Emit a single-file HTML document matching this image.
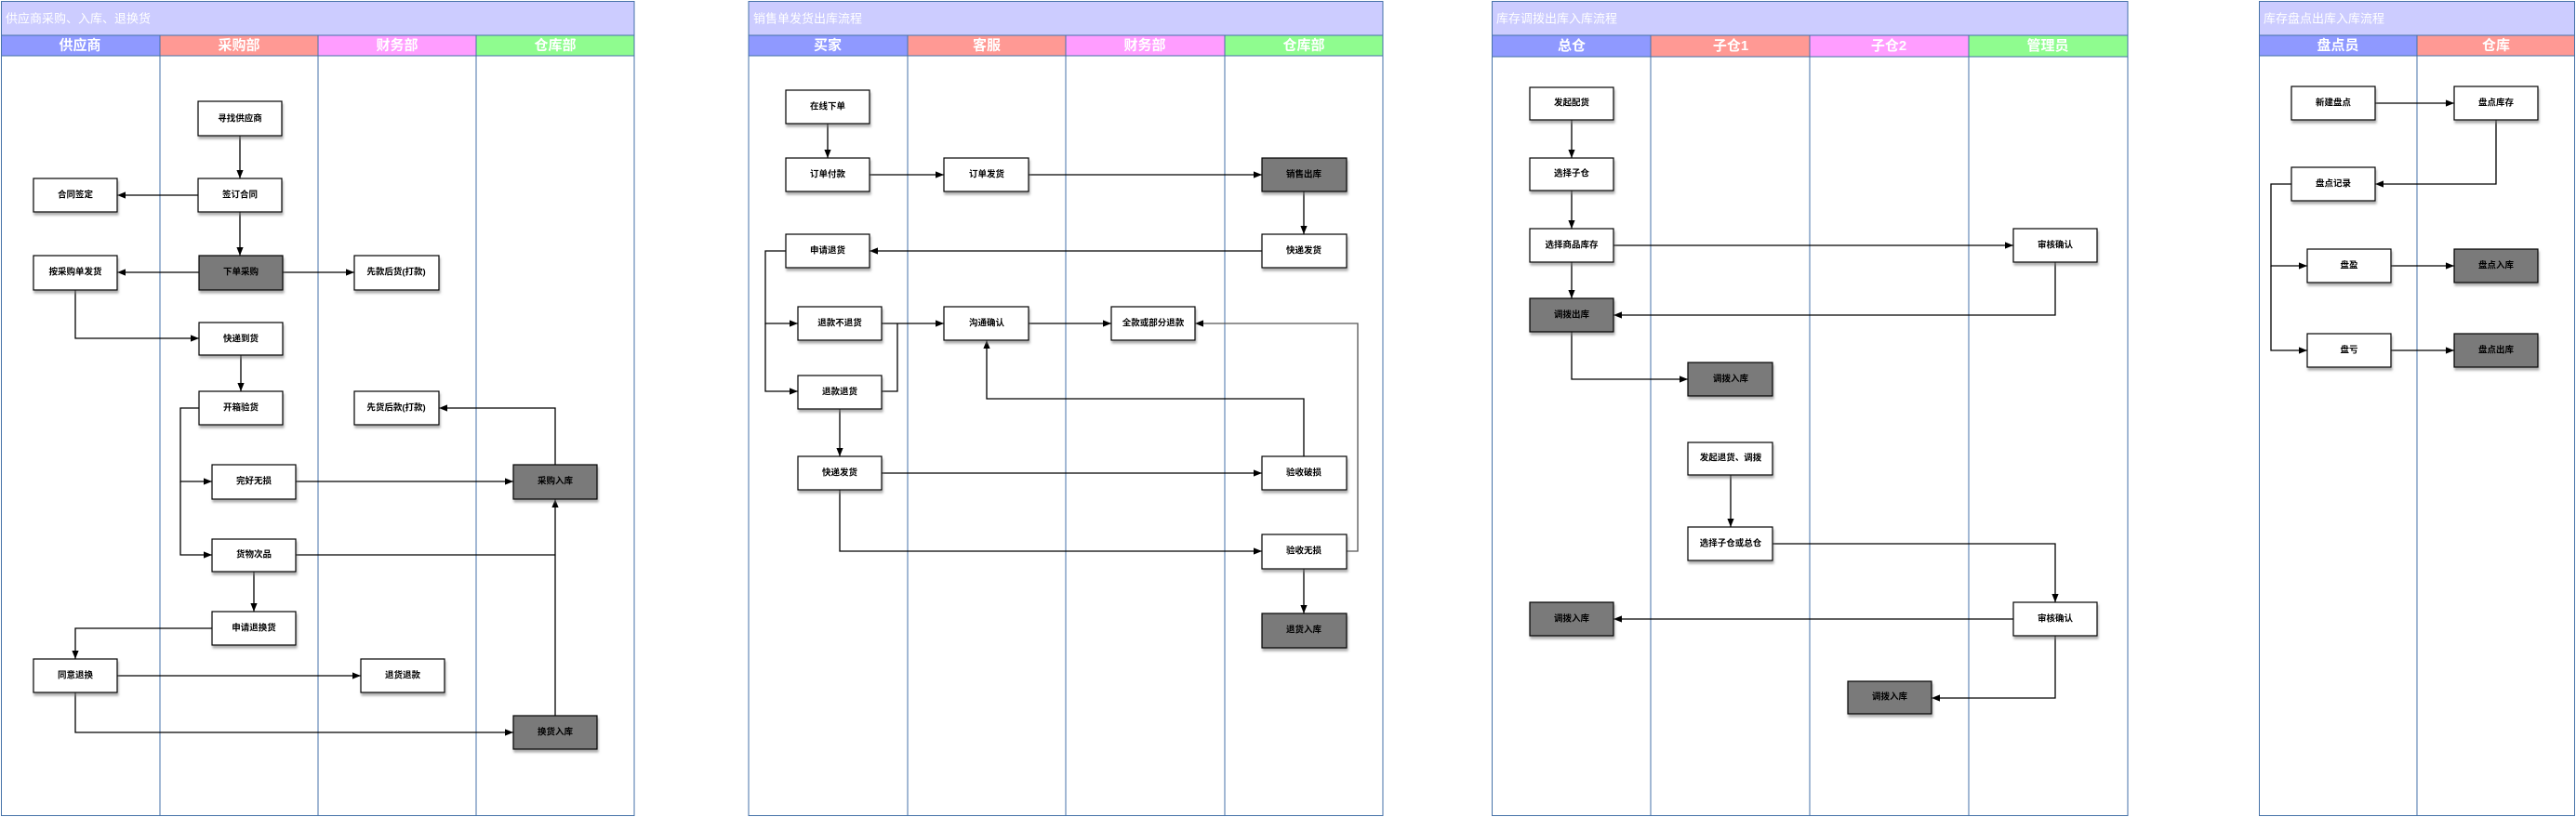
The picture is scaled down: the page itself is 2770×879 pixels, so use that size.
<!DOCTYPE html>
<html><head><meta charset="utf-8"><style>
html,body{margin:0;padding:0;background:#fff;}
svg{display:block;}
.t{font-family:"Liberation Sans","Noto Sans CJK SC",sans-serif;}
.bt{font-size:9.5px;font-weight:bold;fill:#000;text-anchor:middle;dominant-baseline:central;}
.ht{font-size:15px;font-weight:bold;fill:#fff;text-anchor:middle;dominant-baseline:central;}
.tt{font-size:13px;fill:#fff;dominant-baseline:central;}
.ln{stroke:#000;stroke-width:1.3;fill:none;}
.lane{stroke:#4672a8;stroke-width:1;fill:none;}
.bx{filter:url(#ds);}
</style></head><body>
<svg width="2770" height="879" viewBox="0 0 2770 879" xmlns="http://www.w3.org/2000/svg" class="t">
<defs>
<marker id="a" viewBox="0 0 10 10" refX="10" refY="5" markerWidth="9" markerHeight="9" markerUnits="userSpaceOnUse" orient="auto"><path d="M0,1 L10,5 L0,9 z" fill="#000"/></marker>
<filter id="ds" x="-10%" y="-20%" width="130%" height="160%"><feDropShadow dx="1" dy="3" stdDeviation="1.2" flood-color="#777" flood-opacity="0.6"/></filter>
</defs>

<!-- ============ Diagram 1 ============ -->
<rect x="1" y="1" width="681" height="37" fill="#ccccff"/>
<text class="tt" x="6" y="20">供应商采购、入库、退换货</text>
<rect x="1" y="38" width="171" height="22" fill="#8f99ff"/>
<rect x="172" y="38" width="170" height="22" fill="#ff9994"/>
<rect x="342" y="38" width="170" height="22" fill="#ff9dff"/>
<rect x="512" y="38" width="170" height="22" fill="#8ffc8f"/>
<text class="ht" x="86" y="49">供应商</text>
<text class="ht" x="257" y="49">采购部</text>
<text class="ht" x="427" y="49">财务部</text>
<text class="ht" x="597" y="49">仓库部</text>
<rect class="lane" x="1.5" y="1.5" width="680.5" height="876"/>
<line class="lane" x1="1" y1="38" x2="682" y2="38"/>
<line class="lane" x1="1" y1="60" x2="682" y2="60"/>
<line class="lane" x1="172" y1="38" x2="172" y2="878"/>
<line class="lane" x1="342" y1="38" x2="342" y2="878"/>
<line class="lane" x1="512" y1="38" x2="512" y2="878"/>

<path class="ln" d="M258,146 V192" marker-end="url(#a)"/>
<path class="ln" d="M213,210 H126" marker-end="url(#a)"/>
<path class="ln" d="M258,228 V275" marker-end="url(#a)"/>
<path class="ln" d="M214,293 H126" marker-end="url(#a)"/>
<path class="ln" d="M304,293 H381" marker-end="url(#a)"/>
<path class="ln" d="M81,312 V364 H214" marker-end="url(#a)"/>
<path class="ln" d="M259,382 V421" marker-end="url(#a)"/>
<path class="ln" d="M214,439 H194 V518 H228" marker-end="url(#a)"/>
<path class="ln" d="M194,518 V597 H228" marker-end="url(#a)"/>
<path class="ln" d="M318,518 H552" marker-end="url(#a)"/>
<path class="ln" d="M597,500 V439 H472" marker-end="url(#a)"/>
<path class="ln" d="M318,597 H597"/>
<path class="ln" d="M597,770 V537" marker-end="url(#a)"/>
<path class="ln" d="M273,615 V658" marker-end="url(#a)"/>
<path class="ln" d="M228,676 H81 V709" marker-end="url(#a)"/>
<path class="ln" d="M126,727 H388" marker-end="url(#a)"/>
<path class="ln" d="M81,745 V788 H552" marker-end="url(#a)"/>

<g stroke="#000" stroke-width="1.2" class="bx">
<g fill="#fff">
<rect x="213" y="109" width="90" height="37"/>
<rect x="213" y="192" width="90" height="36"/>
<rect x="36" y="192" width="90" height="36"/>
<rect x="36" y="275" width="90" height="37"/>
<rect x="381" y="275" width="91" height="37"/>
<rect x="214" y="347" width="90" height="35"/>
<rect x="214" y="421" width="90" height="36"/>
<rect x="381" y="421" width="91" height="36"/>
<rect x="228" y="500" width="90" height="37"/>
<rect x="228" y="580" width="90" height="35"/>
<rect x="228" y="658" width="90" height="36"/>
<rect x="36" y="709" width="90" height="36"/>
<rect x="388" y="709" width="90" height="36"/>
</g>
<g fill="#7a7a7a">
<rect x="214" y="275" width="90" height="37"/>
<rect x="552" y="500" width="90" height="37"/>
<rect x="552" y="770" width="90" height="36"/>
</g>
</g>
<text class="bt" x="258" y="128">寻找供应商</text>
<text class="bt" x="258" y="210">签订合同</text>
<text class="bt" x="81" y="210">合同签定</text>
<text class="bt" x="81" y="293">按采购单发货</text>
<text class="bt" x="426" y="293">先款后货(打款)</text>
<text class="bt" x="259" y="293">下单采购</text>
<text class="bt" x="259" y="365">快递到货</text>
<text class="bt" x="259" y="439">开箱验货</text>
<text class="bt" x="426" y="439">先货后款(打款)</text>
<text class="bt" x="273" y="518">完好无损</text>
<text class="bt" x="597" y="518">采购入库</text>
<text class="bt" x="273" y="597">货物次品</text>
<text class="bt" x="273" y="676">申请退换货</text>
<text class="bt" x="81" y="727">同意退换</text>
<text class="bt" x="433" y="727">退货退款</text>
<text class="bt" x="597" y="788">换货入库</text>

<!-- ============ Diagram 2 ============ -->
<rect x="805" y="1" width="682" height="37" fill="#ccccff"/>
<text class="tt" x="810" y="20">销售单发货出库流程</text>
<rect x="805" y="38" width="171" height="22" fill="#8f99ff"/>
<rect x="976" y="38" width="170" height="22" fill="#ff9994"/>
<rect x="1146" y="38" width="171" height="22" fill="#ff9dff"/>
<rect x="1317" y="38" width="170" height="22" fill="#8ffc8f"/>
<text class="ht" x="890" y="49">买家</text>
<text class="ht" x="1061" y="49">客服</text>
<text class="ht" x="1231" y="49">财务部</text>
<text class="ht" x="1402" y="49">仓库部</text>
<rect class="lane" x="805" y="1.5" width="682" height="876"/>
<line class="lane" x1="805" y1="38" x2="1487" y2="38"/>
<line class="lane" x1="805" y1="60" x2="1487" y2="60"/>
<line class="lane" x1="976" y1="38" x2="976" y2="878"/>
<line class="lane" x1="1146" y1="38" x2="1146" y2="878"/>
<line class="lane" x1="1317" y1="38" x2="1317" y2="878"/>

<path class="ln" d="M890,133 V170" marker-end="url(#a)"/>
<path class="ln" d="M935,188 H1015" marker-end="url(#a)"/>
<path class="ln" d="M1106,188 H1357" marker-end="url(#a)"/>
<path class="ln" d="M1402,206 V252" marker-end="url(#a)"/>
<path class="ln" d="M1357,270 H935" marker-end="url(#a)"/>
<path class="ln" d="M845,270 H823 V348 H858" marker-end="url(#a)"/>
<path class="ln" d="M823,348 V421 H858" marker-end="url(#a)"/>
<path class="ln" d="M948,348 H1015" marker-end="url(#a)"/>
<path class="ln" d="M948,421 H965 V348"/>
<path class="ln" d="M1106,348 H1195" marker-end="url(#a)"/>
<path d="M1448,593 H1460 V348 H1285" stroke="#555" stroke-width="1.3" fill="none" marker-end="url(#a)"/>
<path class="ln" d="M1402,491 V429 H1061 V366" marker-end="url(#a)"/>
<path class="ln" d="M903,440 V491" marker-end="url(#a)"/>
<path class="ln" d="M948,509 H1357" marker-end="url(#a)"/>
<path class="ln" d="M903,527 V593 H1357" marker-end="url(#a)"/>
<path class="ln" d="M1402,612 V660" marker-end="url(#a)"/>

<g stroke="#000" stroke-width="1.2" class="bx">
<g fill="#fff">
<rect x="845" y="97" width="90" height="36"/>
<rect x="845" y="170" width="90" height="36"/>
<rect x="1015" y="170" width="91" height="36"/>
<rect x="845" y="252" width="90" height="36"/>
<rect x="1357" y="252" width="91" height="36"/>
<rect x="858" y="330" width="90" height="36"/>
<rect x="1015" y="330" width="91" height="36"/>
<rect x="1195" y="330" width="90" height="36"/>
<rect x="858" y="404" width="90" height="36"/>
<rect x="858" y="491" width="90" height="36"/>
<rect x="1357" y="491" width="91" height="36"/>
<rect x="1357" y="575" width="91" height="37"/>
</g>
<g fill="#7a7a7a">
<rect x="1357" y="170" width="91" height="36"/>
<rect x="1357" y="660" width="91" height="37"/>
</g>
</g>
<text class="bt" x="890" y="115">在线下单</text>
<text class="bt" x="890" y="188">订单付款</text>
<text class="bt" x="1061" y="188">订单发货</text>
<text class="bt" x="1402" y="188">销售出库</text>
<text class="bt" x="890" y="270">申请退货</text>
<text class="bt" x="1402" y="270">快递发货</text>
<text class="bt" x="903" y="348">退款不退货</text>
<text class="bt" x="1061" y="348">沟通确认</text>
<text class="bt" x="1240" y="348">全款或部分退款</text>
<text class="bt" x="903" y="422">退款退货</text>
<text class="bt" x="903" y="509">快递发货</text>
<text class="bt" x="1402" y="509">验收破损</text>
<text class="bt" x="1402" y="593">验收无损</text>
<text class="bt" x="1402" y="678">退货入库</text>

<!-- ============ Diagram 3 ============ -->
<rect x="1604" y="1" width="684" height="37" fill="#ccccff"/>
<text class="tt" x="1609" y="20">库存调拨出库入库流程</text>
<rect x="1604" y="38" width="171" height="23" fill="#8f99ff"/>
<rect x="1775" y="38" width="171" height="23" fill="#ff9994"/>
<rect x="1946" y="38" width="171" height="23" fill="#ff9dff"/>
<rect x="2117" y="38" width="171" height="23" fill="#8ffc8f"/>
<text class="ht" x="1690" y="49.5">总仓</text>
<text class="ht" x="1861" y="49.5">子仓1</text>
<text class="ht" x="2031" y="49.5">子仓2</text>
<text class="ht" x="2202" y="49.5">管理员</text>
<rect class="lane" x="1604.5" y="1.5" width="683.5" height="876"/>
<line class="lane" x1="1604" y1="38" x2="2288" y2="38"/>
<line class="lane" x1="1604" y1="61" x2="2288" y2="61"/>
<line class="lane" x1="1775" y1="38" x2="1775" y2="878"/>
<line class="lane" x1="1946" y1="38" x2="1946" y2="878"/>
<line class="lane" x1="2117" y1="38" x2="2117" y2="878"/>

<path class="ln" d="M1690,129 V170" marker-end="url(#a)"/>
<path class="ln" d="M1690,205 V246" marker-end="url(#a)"/>
<path class="ln" d="M1690,282 V321" marker-end="url(#a)"/>
<path class="ln" d="M1735,264 H2165" marker-end="url(#a)"/>
<path class="ln" d="M2210,282 V339 H1735" marker-end="url(#a)"/>
<path class="ln" d="M1690,357 V408 H1815" marker-end="url(#a)"/>
<path class="ln" d="M1861,511 V567" marker-end="url(#a)"/>
<path class="ln" d="M1906,585 H2210 V648" marker-end="url(#a)"/>
<path class="ln" d="M2165,666 H1735" marker-end="url(#a)"/>
<path class="ln" d="M2210,684 V751 H2077" marker-end="url(#a)"/>

<g stroke="#000" stroke-width="1.2" class="bx">
<g fill="#fff">
<rect x="1645" y="94" width="90" height="35"/>
<rect x="1645" y="170" width="90" height="35"/>
<rect x="1645" y="246" width="90" height="36"/>
<rect x="2165" y="246" width="90" height="36"/>
<rect x="1815" y="476" width="91" height="35"/>
<rect x="1815" y="567" width="91" height="36"/>
<rect x="2165" y="648" width="90" height="36"/>
</g>
<g fill="#7a7a7a">
<rect x="1645" y="321" width="90" height="36"/>
<rect x="1815" y="390" width="91" height="36"/>
<rect x="1645" y="648" width="90" height="36"/>
<rect x="1987" y="733" width="90" height="35"/>
</g>
</g>
<text class="bt" x="1690" y="111">发起配货</text>
<text class="bt" x="1690" y="187">选择子仓</text>
<text class="bt" x="1690" y="264">选择商品库存</text>
<text class="bt" x="2210" y="264">审核确认</text>
<text class="bt" x="1690" y="339">调拨出库</text>
<text class="bt" x="1861" y="408">调拨入库</text>
<text class="bt" x="1861" y="493">发起退货、调拨</text>
<text class="bt" x="1861" y="585">选择子仓或总仓</text>
<text class="bt" x="1690" y="666">调拨入库</text>
<text class="bt" x="2210" y="666">审核确认</text>
<text class="bt" x="2032" y="750">调拨入库</text>

<!-- ============ Diagram 4 ============ -->
<rect x="2429" y="1" width="340" height="37" fill="#ccccff"/>
<text class="tt" x="2434" y="20">库存盘点出库入库流程</text>
<rect x="2429" y="38" width="170" height="22" fill="#8f99ff"/>
<rect x="2599" y="38" width="170" height="22" fill="#ff9994"/>
<text class="ht" x="2514" y="49">盘点员</text>
<text class="ht" x="2684" y="49">仓库</text>
<rect class="lane" x="2429.5" y="1.5" width="339" height="876"/>
<line class="lane" x1="2429" y1="38" x2="2769" y2="38"/>
<line class="lane" x1="2429" y1="60" x2="2769" y2="60"/>
<line class="lane" x1="2599" y1="38" x2="2599" y2="878"/>

<path class="ln" d="M2554,111 H2639" marker-end="url(#a)"/>
<path class="ln" d="M2684,129 V198 H2554" marker-end="url(#a)"/>
<path class="ln" d="M2464,198 H2442 V286 H2481" marker-end="url(#a)"/>
<path class="ln" d="M2442,286 V377 H2481" marker-end="url(#a)"/>
<path class="ln" d="M2571,286 H2639" marker-end="url(#a)"/>
<path class="ln" d="M2571,377 H2639" marker-end="url(#a)"/>

<g stroke="#000" stroke-width="1.2" class="bx">
<g fill="#fff">
<rect x="2464" y="93" width="90" height="36"/>
<rect x="2639" y="93" width="90" height="36"/>
<rect x="2464" y="180" width="90" height="36"/>
<rect x="2481" y="268" width="90" height="36"/>
<rect x="2481" y="359" width="90" height="36"/>
</g>
<g fill="#7a7a7a">
<rect x="2639" y="268" width="90" height="36"/>
<rect x="2639" y="359" width="90" height="36"/>
</g>
</g>
<text class="bt" x="2509" y="111">新建盘点</text>
<text class="bt" x="2684" y="111">盘点库存</text>
<text class="bt" x="2509" y="198">盘点记录</text>
<text class="bt" x="2526" y="286">盘盈</text>
<text class="bt" x="2684" y="286">盘点入库</text>
<text class="bt" x="2526" y="377">盘亏</text>
<text class="bt" x="2684" y="377">盘点出库</text>
</svg>
</body></html>
